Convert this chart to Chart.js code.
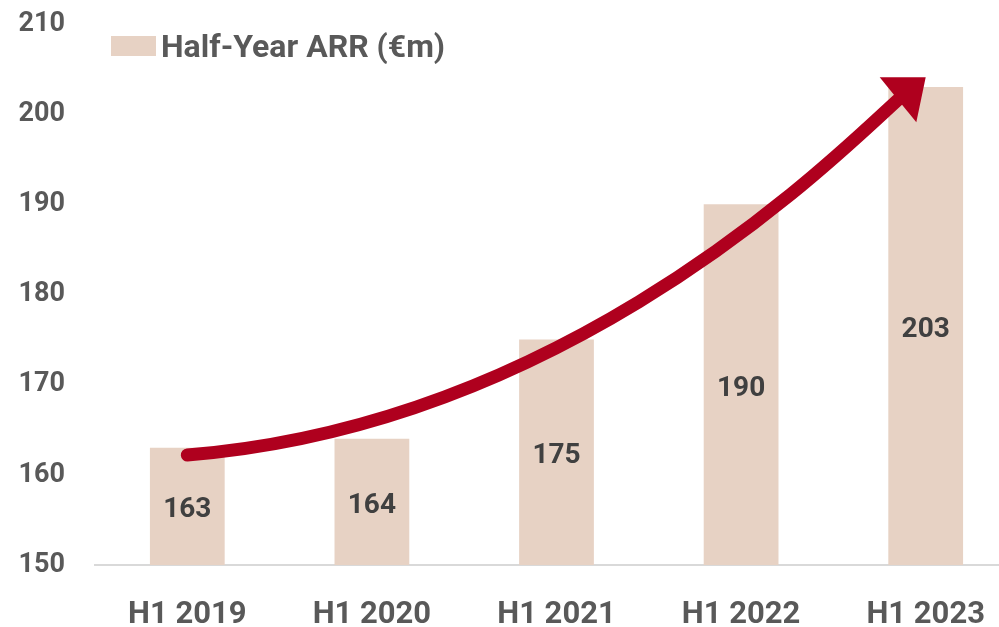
<!DOCTYPE html>
<html>
<head>
<meta charset="utf-8">
<title>Half-Year ARR</title>
<script src="https://cdn.jsdelivr.net/npm/chart.js@4.4.0/dist/chart.umd.min.js"></script>
<style>
  html, body { margin: 0; padding: 0; background: #fff; overflow: hidden; }
  #wrap { position: relative; width: 1018px; height: 627px; }
  #legend {
    position: absolute; left: 111px; top: 28px; height: 36px;
    display: flex; align-items: center;
    font: bold 32px Roboto, sans-serif; color: #595959;
  }
  #legend .box { width: 45px; height: 20px; margin-right: 5px; }
</style>
</head>
<body>
<div id="wrap">
  <canvas id="chart" width="1018" height="627"></canvas>
  <div id="legend"></div>
</div>
<script>
// Chart data
const categories = ['H1 2019', 'H1 2020', 'H1 2021', 'H1 2022', 'H1 2023'];
const arrValues = [163, 164, 175, 190, 203];
const yTicks = [150, 160, 170, 180, 190, 200, 210];
const seriesLabel = 'Half-Year ARR (€m)';

// Growth arrow, in axis units (category index, value)
const arrowStart = { x: 0, y: 162.2 };
const arrowCtrl1 = { x: 2.06, y: 165.6 };
const arrowCtrl2 = { x: 3.49, y: 194.9 };
const arrowBase = { x: 3.85, y: 201.6 };
const arrowTip = { x: 4.0, y: 204.1 };

const barColor = '#E7D2C4';
const arrowColor = '#AF001E';
const textColor = '#595959';

// Curved red arrow
const growthArrow = {
  id: 'growthArrow',
  afterDatasetsDraw(chart) {
    const { ctx, scales } = chart;
    const px = p => ({ x: scales.x.getPixelForValue(p.x), y: scales.y.getPixelForValue(p.y) });
    const s = px(arrowStart), c1 = px(arrowCtrl1), c2 = px(arrowCtrl2);
    const b = px(arrowBase), t = px(arrowTip);
    ctx.save();
    ctx.strokeStyle = arrowColor;
    ctx.fillStyle = arrowColor;
    ctx.lineWidth = 13;
    ctx.lineCap = 'round';
    ctx.beginPath();
    ctx.moveTo(s.x, s.y);
    ctx.bezierCurveTo(c1.x, c1.y, c2.x, c2.y, b.x, b.y);
    ctx.stroke();
    // head
    const dx = t.x - b.x, dy = t.y - b.y;
    const len = Math.hypot(dx, dy);
    const nx = -dy / len, ny = dx / len;
    const half = 29;
    ctx.beginPath();
    ctx.moveTo(t.x, t.y);
    ctx.lineTo(b.x + nx * half, b.y + ny * half);
    ctx.lineTo(b.x - nx * half, b.y - ny * half);
    ctx.closePath();
    ctx.fill();
    ctx.restore();
  }
};

// Value labels in the middle of the visible part of each bar
const barLabels = {
  id: 'barLabels',
  afterDatasetsDraw(chart) {
    const ctx = chart.ctx;
    const meta = chart.getDatasetMeta(0);
    const bottom = chart.chartArea.bottom;
    ctx.save();
    ctx.font = 'bold 28px Roboto';
    ctx.fillStyle = '#404040';
    ctx.textAlign = 'center';
    ctx.textBaseline = 'middle';
    meta.data.forEach((bar, i) => {
      const base = Math.min(bar.base, bottom);
      ctx.fillText(String(arrValues[i]), bar.x, (bar.y + base) / 2 + 4);
    });
    ctx.restore();
  }
};

const chart = new Chart(document.getElementById('chart'), {
  type: 'bar',
  data: {
    labels: categories,
    datasets: [{
      label: seriesLabel,
      data: arrValues,
      backgroundColor: barColor,
      barPercentage: 0.405,
      categoryPercentage: 1
    }]
  },
  options: {
    responsive: false,
    animation: false,
    devicePixelRatio: 1,
    layout: { padding: { top: 24, right: 0, bottom: 0, left: 0 } },
    plugins: {
      legend: { display: false },
      tooltip: { enabled: false }
    },
    scales: {
      x: {
        grid: { display: false },
        border: { display: true, color: '#D9D9D9', width: 2 },
        ticks: {
          color: textColor,
          padding: 27,
          font: { family: 'Roboto', size: 31, weight: 'bold', lineHeight: 1 }
        },
        afterFit: scale => { scale.height = 62; }
      },
      y: {
        min: yTicks[0],
        max: yTicks[yTicks.length - 1],
        grid: { display: false },
        border: { display: false },
        ticks: {
          stepSize: yTicks[1] - yTicks[0],
          color: textColor,
          padding: 22,
          font: { family: 'Roboto', size: 27, weight: 'bold' }
        },
        afterFit: scale => {
          scale.width = 95;
          scale.paddingTop = 0;
          scale.paddingBottom = 0;
        }
      }
    }
  },
  plugins: [growthArrow, barLabels]
});

// HTML legend from the dataset
const legend = document.getElementById('legend');
chart.data.datasets.forEach(ds => {
  const box = document.createElement('span');
  box.className = 'box';
  box.style.background = ds.backgroundColor;
  const txt = document.createElement('span');
  txt.textContent = ds.label;
  legend.appendChild(box);
  legend.appendChild(txt);
});
</script>
</body>
</html>
